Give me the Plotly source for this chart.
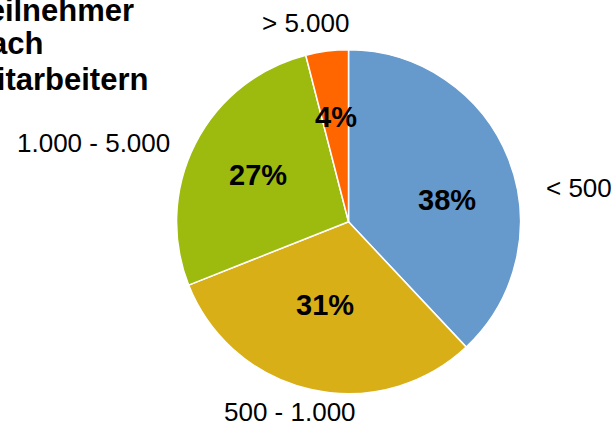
import plotly.graph_objects as go

# ---- data ----
categories = ["< 500", "500 - 1.000", "1.000 - 5.000", "> 5.000"]
shares = [38, 31, 27, 4]
title_lines = ["Teilnehmer", "nach", "Mitarbeitern"]

# ---- styles / layout positions ----
colors = ["#6699CC", "#D9AF18", "#9CBB0E", "#FF6600"]
W, H = 615, 424
FONT = "Liberation Sans, Arial, sans-serif"
pct_pos = [(447, 200), (325, 305), (257.5, 174.5), (336, 117)]      # pixel centres
cat_pos = [(579, 188), (290, 412), (93, 143), (305, 23)]
title_pos = [10, 44, 80]

fig = go.Figure()
fig.add_trace(go.Pie(
    labels=categories,
    values=shares,
    sort=False,
    direction="clockwise",
    rotation=0,
    marker=dict(colors=colors, line=dict(color="white", width=1.5)),
    textinfo="none",
    hoverinfo="label+percent",
    showlegend=False,
    domain=dict(x=[0.2, 0.9334], y=[0.0714, 0.8825]),
))

annotations = []
for v, (px, py) in zip(shares, pct_pos):
    annotations.append(dict(
        text=f"<b>{v}%</b>", x=px / W, y=1 - py / H, xref="paper", yref="paper",
        xanchor="center", yanchor="middle", showarrow=False,
        font=dict(family=FONT, size=29, color="black")))
for c, (px, py) in zip(categories, cat_pos):
    annotations.append(dict(
        text=c, x=px / W, y=1 - py / H, xref="paper", yref="paper",
        xanchor="center", yanchor="middle", showarrow=False,
        font=dict(family=FONT, size=26, color="black")))
for t, py in zip(title_lines, title_pos):
    annotations.append(dict(
        text=f"<b>{t}</b>", x=-31 / W, y=1 - py / H, xref="paper", yref="paper",
        xanchor="left", yanchor="middle", showarrow=False,
        font=dict(family=FONT, size=31, color="black")))

fig.update_layout(
    width=W, height=H,
    margin=dict(l=0, r=0, t=0, b=0),
    paper_bgcolor="white", plot_bgcolor="white",
    annotations=annotations,
)

fig.write_html("out.html", config={"displayModeBar": False},
               post_script="document.body.style.margin='0';")
